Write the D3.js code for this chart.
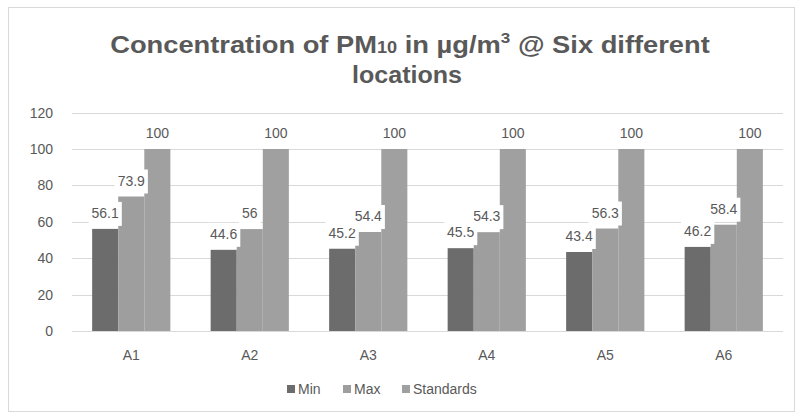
<!DOCTYPE html>
<html><head><meta charset="utf-8">
<script src="https://cdn.jsdelivr.net/npm/d3@7"></script>
<style>body{margin:0;background:#fff}svg{display:block}</style>
</head><body>
<svg id="c" width="800" height="414"></svg>
<script>
const categories = ["A1","A2","A3","A4","A5","A6"];
const seriesNames = ["Min","Max","Standards"];
const minValues = [56.1, 44.6, 45.2, 45.5, 43.4, 46.2];
const maxValues = [73.9, 56, 54.4, 54.3, 56.3, 58.4];
const standardValues = [100, 100, 100, 100, 100, 100];
const yTicks = [0, 20, 40, 60, 80, 100, 120];
const colors = ["#6c6c6c", "#9e9e9e", "#a0a0a0"];

const series = [minValues, maxValues, standardValues];
const svg = d3.select("#c");
const textColor = "#595959";
const font = "'Liberation Sans', Arial, sans-serif";
const small = 14;

svg.append("rect").attr("x", 8.5).attr("y", 7.5).attr("width", 786).attr("height", 404)
  .attr("fill", "#fff").attr("stroke", "#d9d9d9");

// Title (stretched horizontally to mimic the narrower, larger original font)
function stretch(sel, targetW, cx) {
  const b = sel.node().getBBox();
  const sx = targetW / b.width;
  sel.attr("transform", `translate(${cx},0) scale(${sx},1) translate(${-cx},0)`);
}
const title = svg.append("text").attr("x", 410).attr("y", 53).attr("text-anchor", "middle")
  .attr("font-family", font).attr("font-weight", "bold").attr("font-size", 24).attr("fill", textColor);
title.append("tspan").text("Concentration of PM");
title.append("tspan").attr("font-size", 16).text("10");
title.append("tspan").text(" in µg/m");
title.append("tspan").attr("font-size", 15).attr("dy", -10).text("3");
title.append("tspan").attr("dy", 10).text(" @ Six different");
stretch(title, 600, 410);
const title2 = svg.append("text").attr("x", 407).attr("y", 83).attr("text-anchor", "middle")
  .attr("font-family", font).attr("font-weight", "bold").attr("font-size", 24).attr("fill", textColor)
  .text("locations");
stretch(title2, 110, 407);

const x0 = d3.scaleBand().domain(categories).range([72, 783]).paddingInner(0.34).paddingOuter(0.17);
const x1 = d3.scaleBand().domain(seriesNames).range([0, x0.bandwidth()]);
const y = d3.scaleLinear().domain([0, 120]).range([331, 112.6]);

// gridlines
svg.append("g").selectAll("line").data(yTicks).join("line")
  .attr("x1", 72).attr("x2", 783).attr("y1", d => Math.round(y(d)) + 0.5).attr("y2", d => Math.round(y(d)) + 0.5)
  .attr("stroke", "#d9d9d9").attr("stroke-width", 1);

// y axis labels
const yAxis = d3.axisLeft(y).tickValues(yTicks).tickSize(0).tickPadding(0);
const gy = svg.append("g").attr("transform", "translate(53,0)").call(yAxis);
gy.select(".domain").remove();
gy.selectAll("text").attr("font-family", font).attr("font-size", small).attr("fill", textColor);

// x axis labels
const xAxis = d3.axisBottom(x0).tickSize(0).tickPadding(0);
const gx = svg.append("g").attr("transform", "translate(0,350)").call(xAxis);
gx.select(".domain").remove();
gx.selectAll("text").attr("font-family", font).attr("font-size", small).attr("fill", textColor);

// bars
const groups = svg.append("g").selectAll("g").data(categories).join("g")
  .attr("transform", d => `translate(${x0(d)},0)`);
groups.selectAll("rect").data((c, i) => series.map((s, k) => ({k, v: s[i]}))).join("rect")
  .attr("x", d => x1(seriesNames[d.k])).attr("width", x1.bandwidth())
  .attr("y", d => y(d.v)).attr("height", d => y(0) - y(d.v))
  .attr("fill", d => colors[d.k]);

// data labels with white boxes
const labels = [];
categories.forEach((c, i) => series.forEach((s, k) => {
  labels.push({cx: x0(c) + x1(seriesNames[k]) + x1.bandwidth() / 2, v: s[i]});
}));
const lg = svg.append("g");
labels.forEach(d => {
  const t = lg.append("text").attr("x", d.cx).attr("y", y(d.v) - 11).attr("text-anchor", "middle")
    .attr("font-family", font).attr("font-size", small).attr("fill", textColor).text(d.v);
  const w = t.node().getComputedTextLength();
  lg.insert("rect", () => t.node()).attr("x", d.cx - w / 2 - 3).attr("y", y(d.v) - 27)
    .attr("width", w + 6).attr("height", 24).attr("fill", "#fff");
});

// legend
const legendX = [287, 343, 402];
const leg = svg.append("g").selectAll("g").data(seriesNames).join("g")
  .attr("transform", (d, i) => `translate(${legendX[i]},389)`);
leg.append("rect").attr("x", 0).attr("y", -4).attr("width", 8).attr("height", 8).attr("fill", (d, i) => colors[i]);
leg.append("text").attr("x", 11).attr("y", 0).attr("dy", "0.35em").attr("font-family", font)
  .attr("font-size", small).attr("fill", textColor).text(d => d);
</script>
</body></html>
